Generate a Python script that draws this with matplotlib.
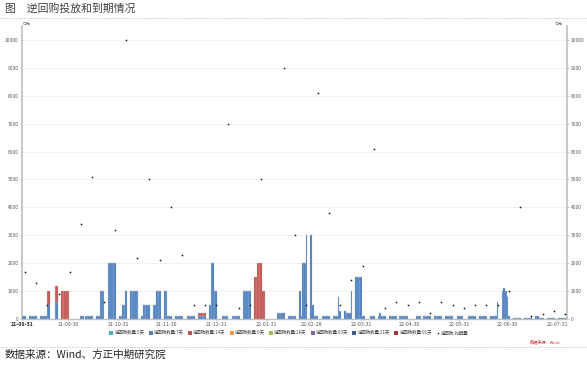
import matplotlib
matplotlib.use('Agg')
import matplotlib.pyplot as plt
import matplotlib.dates as mdates
from matplotlib.patches import Patch
from matplotlib.lines import Line2D
import pandas as pd

plt.rcParams['font.family'] = ['Noto Sans CJK SC', 'DejaVu Sans']

# ---------------- data (亿元) ----------------
dates = [
    '2021-08-31', '2021-09-01', '2021-09-02', '2021-09-03',
    '2021-09-06', '2021-09-07', '2021-09-08', '2021-09-09', '2021-09-10',
    '2021-09-13', '2021-09-14', '2021-09-15', '2021-09-16', '2021-09-17', '2021-09-18',
    '2021-09-22', '2021-09-23',
    '2021-09-26', '2021-09-27', '2021-09-28', '2021-09-29', '2021-09-30',
    '2021-10-08', '2021-10-09',
    '2021-10-11', '2021-10-12', '2021-10-13', '2021-10-14', '2021-10-15',
    '2021-10-18', '2021-10-19', '2021-10-20', '2021-10-21', '2021-10-22',
    '2021-10-25', '2021-10-26', '2021-10-27', '2021-10-28', '2021-10-29',
    '2021-11-01', '2021-11-02', '2021-11-03', '2021-11-04', '2021-11-05',
    '2021-11-08', '2021-11-09', '2021-11-10', '2021-11-11', '2021-11-12',
    '2021-11-15', '2021-11-16', '2021-11-17', '2021-11-18', '2021-11-19',
    '2021-11-22', '2021-11-23', '2021-11-24', '2021-11-25', '2021-11-26',
    '2021-11-29', '2021-11-30', '2021-12-01', '2021-12-02', '2021-12-03',
    '2021-12-06', '2021-12-07', '2021-12-08', '2021-12-09', '2021-12-10',
    '2021-12-13', '2021-12-14', '2021-12-15', '2021-12-16', '2021-12-17',
    '2021-12-20', '2021-12-21', '2021-12-22', '2021-12-23', '2021-12-24',
    '2021-12-27', '2021-12-28', '2021-12-29', '2021-12-30', '2021-12-31',
    '2022-01-04', '2022-01-05', '2022-01-06', '2022-01-07',
    '2022-01-10', '2022-01-11', '2022-01-12', '2022-01-13', '2022-01-14',
    '2022-01-17', '2022-01-18', '2022-01-19', '2022-01-20', '2022-01-21',
    '2022-01-24', '2022-01-25', '2022-01-26', '2022-01-27', '2022-01-28', '2022-01-29', '2022-01-30',
    '2022-02-07', '2022-02-08', '2022-02-09', '2022-02-10', '2022-02-11',
    '2022-02-14', '2022-02-15', '2022-02-16', '2022-02-17', '2022-02-18',
    '2022-02-21', '2022-02-22', '2022-02-23', '2022-02-24', '2022-02-25',
    '2022-02-28', '2022-03-01', '2022-03-02', '2022-03-03', '2022-03-04',
    '2022-03-07', '2022-03-08', '2022-03-09', '2022-03-10', '2022-03-11',
    '2022-03-14', '2022-03-15', '2022-03-16', '2022-03-17', '2022-03-18',
    '2022-03-21', '2022-03-22', '2022-03-23', '2022-03-24', '2022-03-25',
    '2022-03-28', '2022-03-29', '2022-03-30', '2022-03-31', '2022-04-01', '2022-04-02',
    '2022-04-06', '2022-04-07', '2022-04-08',
    '2022-04-11', '2022-04-12', '2022-04-13', '2022-04-14', '2022-04-15',
    '2022-04-18', '2022-04-19', '2022-04-20', '2022-04-21', '2022-04-22',
    '2022-04-24', '2022-04-25', '2022-04-26', '2022-04-27', '2022-04-28', '2022-04-29',
    '2022-05-05', '2022-05-06', '2022-05-07',
    '2022-05-09', '2022-05-10', '2022-05-11', '2022-05-12', '2022-05-13',
    '2022-05-16', '2022-05-17', '2022-05-18', '2022-05-19', '2022-05-20',
    '2022-05-23', '2022-05-24', '2022-05-25', '2022-05-26', '2022-05-27',
    '2022-05-30', '2022-05-31', '2022-06-01', '2022-06-02',
    '2022-06-06', '2022-06-07', '2022-06-08', '2022-06-09', '2022-06-10',
    '2022-06-13', '2022-06-14', '2022-06-15', '2022-06-16', '2022-06-17',
    '2022-06-20', '2022-06-21', '2022-06-22', '2022-06-23', '2022-06-24',
    '2022-06-27', '2022-06-28', '2022-06-29', '2022-06-30', '2022-07-01',
    '2022-07-04', '2022-07-05', '2022-07-06', '2022-07-07', '2022-07-08',
    '2022-07-11', '2022-07-12', '2022-07-13', '2022-07-14', '2022-07-15',
    '2022-07-18', '2022-07-19', '2022-07-20', '2022-07-21', '2022-07-22',
    '2022-07-25', '2022-07-26', '2022-07-27', '2022-07-28', '2022-07-29',
    '2022-08-01', '2022-08-02', '2022-08-03', '2022-08-04', '2022-08-05',
]

rr_7d = [
    100, 100, 100, 100,
    100, 100, 100, 100, 100,
    100, 100, 100, 100, 500, 500,
    600, 600,
    0, 0, 0, 0, 0,
    100, 100,
    100, 100, 100, 100, 100,
    100, 100, 1000, 1000, 1000,
    2000, 2000, 2000, 2000, 2000,
    100, 100, 500, 500, 1000,
    1000, 1000, 1000, 1000, 1000,
    100, 500, 500, 500, 500,
    500, 500, 1000, 1000, 1000,
    1000, 1000, 100, 100, 100,
    100, 100, 100, 100, 100,
    100, 100, 100, 100, 100,
    100, 100, 100, 100, 100,
    500, 2000, 2000, 1000, 1000,
    100, 100, 100, 100,
    100, 100, 100, 100, 100,
    1000, 1000, 1000, 1000, 1000,
    0, 0, 0, 0, 0, 0, 0,
    200, 200, 200, 200, 200,
    100, 100, 100, 100, 100,
    1000, 100, 2000, 2000, 3000,
    3000, 500, 100, 100, 100,
    100, 100, 100, 100, 100,
    100, 100, 100, 800, 300,
    300, 200, 200, 200, 1000,
    1500, 1500, 1500, 1500, 100, 100,
    100, 100, 100,
    100, 200, 100, 100, 100,
    100, 100, 100, 100, 100,
    100, 100, 100, 100, 100, 100,
    100, 100, 100,
    100, 100, 100, 100, 100,
    100, 100, 100, 100, 100,
    100, 100, 100, 100, 100,
    100, 100, 100, 100,
    100, 100, 100, 100, 100,
    100, 100, 100, 100, 100,
    100, 100, 100, 100, 600,
    1000, 1100, 1000, 800, 100,
    30, 30, 30, 30, 30,
    30, 30, 30, 30, 100,
    120, 100, 30, 30, 30,
    30, 30, 30, 30, 30,
    20, 20, 20, 20, 20,
]

rr_14d = [
    0, 0, 0, 0,
    0, 0, 0, 0, 0,
    0, 0, 0, 0, 500, 500,
    600, 600,
    1000, 1000, 1000, 1000, 1000,
    0, 0,
    0, 0, 0, 0, 0,
    0, 0, 0, 0, 0,
    0, 0, 0, 0, 0,
    0, 0, 0, 0, 0,
    0, 0, 0, 0, 0,
    0, 0, 0, 0, 0,
    0, 0, 0, 0, 0,
    0, 0, 0, 0, 0,
    0, 0, 0, 0, 0,
    0, 0, 0, 0, 0,
    100, 100, 100, 100, 100,
    0, 0, 0, 0, 0,
    0, 0, 0, 0,
    0, 0, 0, 0, 0,
    0, 0, 0, 0, 0,
    1500, 1500, 2000, 2000, 2000, 1000, 1000,
    0, 0, 0, 0, 0,
    0, 0, 0, 0, 0,
    0, 0, 0, 0, 0,
    0, 0, 0, 0, 0,
    0, 0, 0, 0, 0,
    0, 0, 0, 0, 0,
    0, 0, 0, 0, 0,
    0, 0, 0, 0, 0, 0,
    0, 0, 0,
    0, 0, 0, 0, 0,
    0, 0, 0, 0, 0,
    0, 0, 0, 0, 0, 0,
    0, 0, 0,
    0, 0, 0, 0, 0,
    0, 0, 0, 0, 0,
    0, 0, 0, 0, 0,
    0, 0, 0, 0,
    0, 0, 0, 0, 0,
    0, 0, 0, 0, 0,
    0, 0, 0, 0, 0,
    0, 0, 0, 0, 0,
    0, 0, 0, 0, 0,
    0, 0, 0, 0, 0,
    0, 0, 0, 0, 0,
    0, 0, 0, 0, 0,
    0, 0, 0, 0, 0,
]

maturity_dates = [
    '2021-09-03', '2021-09-10', '2021-09-17', '2021-09-24', '2021-10-01', '2021-10-08',
    '2021-10-15', '2021-10-22', '2021-10-29', '2021-11-05', '2021-11-12', '2021-11-19',
    '2021-11-26', '2021-12-03', '2021-12-10', '2021-12-17', '2021-12-24', '2021-12-31',
    '2022-01-07', '2022-01-14', '2022-01-21', '2022-01-28', '2022-02-11', '2022-02-18',
    '2022-02-25', '2022-03-04', '2022-03-11', '2022-03-18', '2022-03-25', '2022-04-01',
    '2022-04-08', '2022-04-15', '2022-04-22', '2022-04-29', '2022-05-06', '2022-05-13',
    '2022-05-20', '2022-05-27', '2022-06-03', '2022-06-10', '2022-06-17', '2022-06-24',
    '2022-07-01', '2022-07-08', '2022-07-15', '2022-07-22', '2022-07-29', '2022-08-05',
]
maturity_values = [
    1700, 1300, 500, 900, 1700, 3400,
    5100, 600, 3200, 10000, 2200, 5000,
    2100, 4000, 2300, 500, 500, 500,
    7000, 400, 500, 5000, 9000, 3000,
    500, 8100, 3800, 500, 1400, 1900,
    6100, 400, 600, 500, 600, 200,
    600, 500, 400, 500, 500, 500,
    1000, 4000, 120, 180, 270, 180,
]

tick_dates = ['2021-09-30', '2021-10-31', '2021-11-30', '2021-12-31', '2022-01-31',
              '2022-02-28', '2022-03-31', '2022-04-30', '2022-05-31', '2022-06-30', '2022-07-31']
tick_labels = ['21-09-30', '21-10-31', '21-11-30', '21-12-31', '22-01-31',
               '22-02-28', '22-03-31', '22-04-30', '22-05-31', '22-06-30', '22-07-31']

legend_labels = ['逆回购数量:5天', '逆回购数量:7天', '逆回购数量:14天', '逆回购数量:6天',
                 '逆回购数量:28天', '逆回购数量:63天', '逆回购数量:21天', '逆回购数量:91天']
legend_colors = ['#4BACC6', '#4F81BD', '#C0504D', '#F79646',
                 '#9BBB59', '#8064A2', '#3A5F8F', '#9E3B38']

# ---------------- figure ----------------
W, H = 587, 365
fig = plt.figure(figsize=(W / 100, H / 100), dpi=100)
ax = fig.add_axes([22 / W, (H - 319) / H, 545 / W, 293 / H])

x = mdates.date2num(pd.to_datetime(dates))
xm = mdates.date2num(pd.to_datetime(maturity_dates))
c7 = '#4A7EBB'
c14 = '#C0504D'

ax.bar(x, rr_7d, width=1.0, color=c7, edgecolor='#A7BFDF', linewidth=0.2, zorder=3)
ax.bar(x, rr_14d, width=1.0, bottom=rr_7d, color=c14, edgecolor='#E0AAA8',
       linewidth=0.2, zorder=3)
ax.plot(xm, maturity_values, linestyle='none', marker='s', markersize=1.1,
        markeredgewidth=0, color='#111111', zorder=4)

x0 = mdates.date2num(pd.Timestamp('2021-08-31'))
ax.set_xlim(x0 + 1.2, x0 + 340.1)
ax.set_ylim(0, 10500)

# grid & spines
ax.set_yticks(range(0, 10001, 1000))
ax.set_yticks(range(500, 10500, 1000), minor=True)
ax.grid(axis='y', color='#EFEFEF', linewidth=0.6, zorder=0)
ax.set_axisbelow(True)
ax.spines['top'].set_visible(False)
for s in ['left', 'right']:
    ax.spines[s].set_color('#BFBFBF')
    ax.spines[s].set_linewidth(1.2)
ax.spines['bottom'].set_color('#BFBFBF')
ax.spines['bottom'].set_linewidth(1.0)

ax.tick_params(axis='y', which='both', left=True, right=True, labelleft=True,
               labelright=True, labelsize=3.5, labelcolor='#595959', color='#A6A6A6',
               length=1.5, width=0.4, pad=1)
ax.tick_params(axis='y', which='minor', length=1.0)

xt = [x0 + 1.2] + list(mdates.date2num(pd.to_datetime(tick_dates)))
ax.set_xticks(xt)
ax.set_xticklabels(['21-08-31'] + tick_labels)
ax.tick_params(axis='x', labelsize=3.8, labelcolor='#595959', color='#A6A6A6',
               length=1.5, width=0.4, pad=1)
first = ax.get_xticklabels()[0]
first.set_fontweight('bold')
first.set_color('#262626')

# unit labels
fig.text(23 / W, 1 - 24 / H, '亿元', fontsize=2.8, color='#595959', ha='left', va='center')
fig.text(563 / W, 1 - 24 / H, '亿元', fontsize=2.8, color='#595959', ha='right', va='center')

# legend
handles = [Patch(facecolor=c, edgecolor='none') for c in legend_colors]
handles.append(Line2D([], [], linestyle='none', marker='s', markersize=1.0,
                      markeredgewidth=0, color='#111111'))
labels = legend_labels + ['逆回购:到期量']
fig.legend(handles, labels, loc='center', bbox_to_anchor=(289 / W, 1 - 333 / H), ncol=9,
           fontsize=3.2, frameon=False, handlelength=0.9, handleheight=0.9,
           handletextpad=0.3, columnspacing=0.9, labelcolor='#404040')

fig.text(560 / W, 1 - 342 / H, '数据来源：Wind', fontsize=3.0, color='#E03030',
         ha='right', va='center', style='italic')

# title and footer
fig.text(5 / W, 1 - 8 / H, '图　逆回购投放和到期情况', fontsize=7.8, color='#404040',
         ha='left', va='center')
fig.add_artist(Line2D([0, 1], [1 - 18 / H, 1 - 18 / H], color='#BFBFBF', linewidth=0.6,
                      linestyle=(0, (1, 1)), transform=fig.transFigure))
fig.add_artist(Line2D([0, 1], [1 - 347 / H, 1 - 347 / H], color='#BFBFBF', linewidth=0.6,
                      linestyle=(0, (1, 1)), transform=fig.transFigure))
fig.text(5 / W, 1 - 355 / H, '数据来源：Wind、方正中期研究院', fontsize=7.6, color='#262626',
         ha='left', va='center', style='italic')

fig.savefig('out.png', dpi=100)
